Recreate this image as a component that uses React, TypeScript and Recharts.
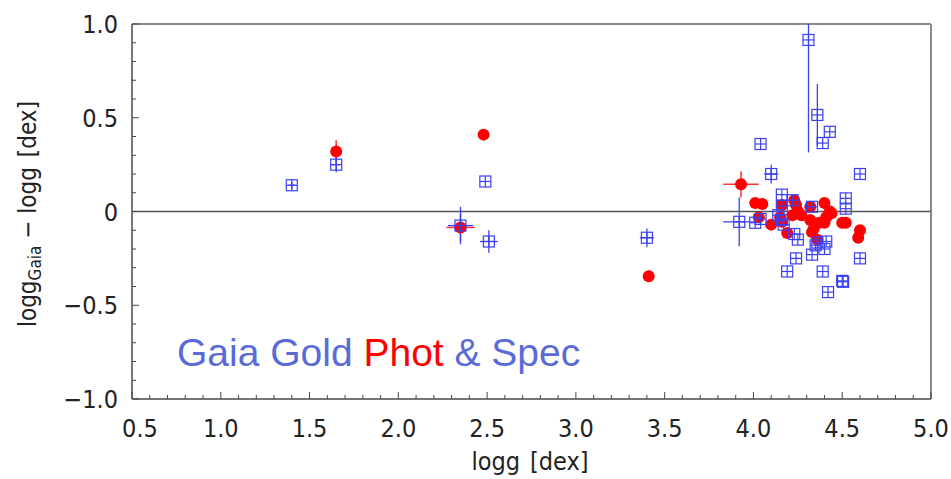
import React from "react";
import {
  ErrorBar,
  ReferenceLine,
  Scatter,
  ScatterChart,
  XAxis,
  YAxis,
} from "recharts";

// Gaia Gold spectroscopic sample (blue squares)
const specLogg = [
  1.4, 1.65, 2.49, 2.35, 2.51, 3.4, 3.92, 4.04, 4.31, 4.36, 4.39, 4.43, 4.1, 4.6,
  4.01, 4.04, 4.16, 4.16, 4.14, 4.16, 4.17, 4.23, 4.25, 4.33, 4.35, 4.4, 4.41,
  4.52, 4.52, 4.6, 4.33, 4.24, 4.19, 4.39, 4.5, 4.505, 4.42, 4.22, 4.36,
];
const specDiff = [
  0.14, 0.25, 0.16, -0.075, -0.16, -0.14, -0.055, 0.36, 0.915, 0.515, 0.365,
  0.425, 0.2, 0.2, -0.06, -0.04, 0.09, 0.03, -0.02, -0.045, -0.07, -0.12, -0.15,
  0.025, -0.18, -0.2, -0.16, 0.07, 0.015, -0.25, -0.23, -0.25, -0.32, -0.32,
  -0.37, -0.375, -0.43, 0.06, -0.165,
];
const specErrX = [
  0.02, 0.02, 0, 0.07, 0.05, 0.04, 0.09, 0, 0, 0, 0, 0, 0.04, 0, 0, 0, 0, 0, 0,
  0, 0, 0, 0, 0, 0, 0, 0, 0, 0, 0, 0, 0, 0, 0, 0, 0, 0, 0, 0,
];
const specErrY: (number | number[])[] = [
  0.02, 0.04, 0, 0.1, 0.06, 0.05, 0.13, 0, [0.6, 0.085], 0.165, 0, 0, 0.05, 0,
  0, 0, 0, 0, 0, 0, 0, 0, 0, 0, 0, 0, 0, 0, 0, 0, 0, 0, 0, 0, 0, 0, 0, 0, 0,
];

// Gaia Gold photometric sample (red dots)
const photLogg = [
  1.65, 2.48, 2.35, 3.41, 3.93, 4.01, 4.05, 4.03, 4.1, 4.16, 4.15, 4.16, 4.19,
  4.23, 4.24, 4.25, 4.22, 4.32, 4.32, 4.34, 4.33, 4.36, 4.4, 4.43, 4.41, 4.4,
  4.5, 4.52, 4.6, 4.59, 4.44, 4.37, 4.27,
];
const photDiff = [
  0.32, 0.41, -0.085, -0.345, 0.145, 0.045, 0.04, -0.03, -0.07, 0.035, -0.03,
  -0.055, -0.115, 0.06, 0.035, 0.0, -0.02, 0.025, -0.045, -0.09, -0.11, -0.15,
  0.045, 0.0, -0.03, -0.06, -0.06, -0.06, -0.1, -0.14, -0.01, -0.06, -0.02,
];
const photErrX = [
  0.03, 0, 0.08, 0.03, 0.1, 0, 0, 0, 0, 0, 0, 0, 0, 0, 0, 0, 0, 0, 0, 0, 0, 0,
  0, 0, 0, 0, 0, 0, 0, 0, 0, 0, 0,
];
const photErrY = [
  0.06, 0, 0.07, 0.03, 0.07, 0, 0, 0, 0, 0, 0, 0, 0, 0, 0, 0, 0, 0, 0, 0, 0, 0,
  0, 0, 0, 0, 0, 0, 0, 0, 0, 0, 0,
];

const xTicks = [
  0.5, 0.6, 0.7, 0.8, 0.9, 1.0, 1.1, 1.2, 1.3, 1.4, 1.5, 1.6, 1.7, 1.8, 1.9, 2.0,
  2.1, 2.2, 2.3, 2.4, 2.5, 2.6, 2.7, 2.8, 2.9, 3.0, 3.1, 3.2, 3.3, 3.4, 3.5, 3.6,
  3.7, 3.8, 3.9, 4.0, 4.1, 4.2, 4.3, 4.4, 4.5, 4.6, 4.7, 4.8, 4.9, 5.0,
];
const xMajor = [0.5, 1.0, 1.5, 2.0, 2.5, 3.0, 3.5, 4.0, 4.5, 5.0];
const xMajorLabels = ["0.5", "1.0", "1.5", "2.0", "2.5", "3.0", "3.5", "4.0", "4.5", "5.0"];

const yTicks = [
  -1.0, -0.9, -0.8, -0.7, -0.6, -0.5, -0.4, -0.3, -0.2, -0.1, 0, 0.1, 0.2, 0.3,
  0.4, 0.5, 0.6, 0.7, 0.8, 0.9, 1.0,
];
const yMajor = [-1.0, -0.5, 0, 0.5, 1.0];
const yMajorLabels = ["\u22121.0", "\u22120.5", "0", "0.5", "1.0"];

const specData = specLogg.map((x, i) => ({
  x,
  y: specDiff[i],
  ex: specErrX[i],
  ey: specErrY[i],
}));
const photData = photLogg.map((x, i) => ({
  x,
  y: photDiff[i],
  ex: photErrX[i],
  ey: photErrY[i],
}));

const FONT = "'DejaVu Sans Condensed', 'Liberation Sans Narrow', 'DejaVu Sans', sans-serif";
const AXIS = "#4a4a4a";
const BLUE = "#3a40f2";
const RED = "#ff0000";

function majorIndex(list: number[], v: number) {
  return list.findIndex((m) => Math.abs(m - v) < 1e-6);
}

function XTick(props: any) {
  const { x, y, payload } = props;
  const idx = majorIndex(xMajor, payload.value);
  const len = idx >= 0 ? 7 : 4;
  return (
    <g>
      <line x1={x} x2={x} y1={y} y2={y - len} stroke={AXIS} strokeWidth={1} />
      {idx >= 0 && (
        <text
          x={x + (idx === 0 ? 8 : 0)}
          y={y + 38}
          textAnchor="middle"
          fontFamily={FONT}
          fontSize={25}
          fill="#222"
        >
          {xMajorLabels[idx]}
        </text>
      )}
    </g>
  );
}

function YTick(props: any) {
  const { x, y, payload } = props;
  const idx = majorIndex(yMajor, payload.value);
  const len = idx >= 0 ? 7 : 4;
  return (
    <g>
      <line x1={x} x2={x + len} y1={y} y2={y} stroke={AXIS} strokeWidth={1} />
      {idx >= 0 && (
        <text
          x={x - 14}
          y={y}
          dy="0.36em"
          textAnchor="end"
          fontFamily={FONT}
          fontSize={25}
          fill="#222"
        >
          {yMajorLabels[idx]}
        </text>
      )}
    </g>
  );
}

function SquareMark(props: any) {
  const { cx, cy } = props;
  const h = 5.5;
  return (
    <g stroke={BLUE} strokeWidth={1.2} fill="none">
      <rect x={cx - h} y={cy - h} width={2 * h} height={2 * h} />
      <line x1={cx - h} x2={cx + h} y1={cy} y2={cy} />
      <line x1={cx} x2={cx} y1={cy - h} y2={cy + h} />
    </g>
  );
}

function DotMark(props: any) {
  const { cx, cy } = props;
  return <circle cx={cx} cy={cy} r={6} fill={RED} />;
}

export default function App() {
  return (
    <div style={{ position: "absolute", left: 0, top: 0, width: 951, height: 479, background: "#fff" }}>
      <ScatterChart
        width={951}
        height={479}
        margin={{ top: 24, right: 20, bottom: 0, left: 0 }}
      >
        <XAxis
          type="number"
          dataKey="x"
          domain={[0.5, 5]}
          ticks={xTicks}
          interval={0}
          allowDataOverflow
          tickSize={0}
          tickMargin={0}
          height={80}
          stroke={AXIS}
          strokeWidth={1.5}
          tick={<XTick />}
        />
        <YAxis
          type="number"
          dataKey="y"
          domain={[-1, 1]}
          ticks={yTicks}
          interval={0}
          allowDataOverflow
          tickSize={0}
          tickMargin={0}
          width={132}
          stroke={AXIS}
          strokeWidth={1.5}
          tick={<YTick />}
        />
        <ReferenceLine y={1} stroke="#8a8a8a" strokeWidth={2} />
        <ReferenceLine x={5} stroke="#8a8a8a" strokeWidth={2} />
        <ReferenceLine y={0} stroke="#555" strokeWidth={1.5} />
        <Scatter data={photData} shape={<DotMark />} isAnimationActive={false}>
          <ErrorBar dataKey="ex" direction="x" width={0} stroke={RED} strokeWidth={1.5} opacity={0.8} />
          <ErrorBar dataKey="ey" direction="y" width={0} stroke={RED} strokeWidth={1.5} opacity={0.8} />
        </Scatter>
        <Scatter data={specData} shape={<SquareMark />} isAnimationActive={false}>
          <ErrorBar dataKey="ex" direction="x" width={0} stroke={BLUE} strokeWidth={1.3} />
          <ErrorBar dataKey="ey" direction="y" width={0} stroke={BLUE} strokeWidth={1.3} />
        </Scatter>
      </ScatterChart>
      <svg
        width={951}
        height={479}
        style={{ position: "absolute", left: 0, top: 0, pointerEvents: "none" }}
      >
        <text x={530} y={470} textAnchor="middle" fontFamily={FONT} fontSize={25} fill="#222">
          logg<tspan dx={10}>[dex]</tspan>
        </text>
        <text
          transform="translate(36,214) rotate(-90)"
          textAnchor="middle"
          fontFamily={FONT}
          fontSize={24}
          fill="#222"
        >
          logg
          <tspan fontSize={17} dy={5}>Gaia</tspan>
          <tspan dy={-5}> {"\u2212"} logg</tspan>
          <tspan dx={10}>[dex]</tspan>
        </text>
        <text x={177} y={366} fontFamily="'Liberation Sans', Arial, sans-serif" fontSize={39}>
          <tspan fill="#5a6bd8">Gaia Gold </tspan>
          <tspan fill="#ff0000">Phot</tspan>
          <tspan fill="#5a6bd8"> &amp; Spec</tspan>
        </text>
      </svg>
    </div>
  );
}
